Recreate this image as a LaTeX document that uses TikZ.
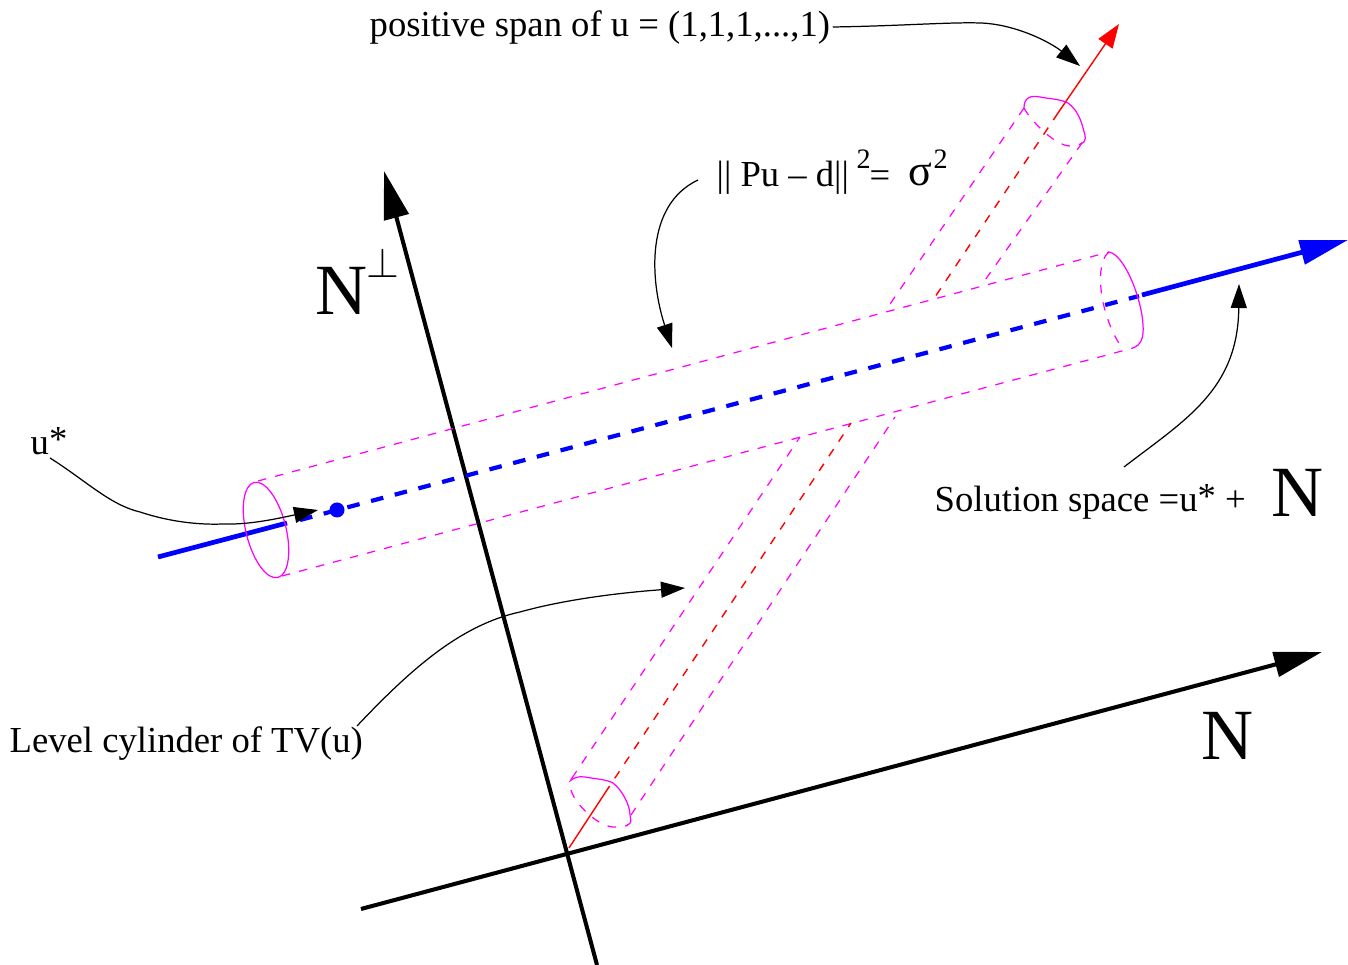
\documentclass[tikz,border=0pt]{standalone}
\usepackage{fontspec}
\setmainfont{Liberation Serif}
\usetikzlibrary{arrows.meta}
\definecolor{cylmagenta}{RGB}{255,0,255}
\tikzset{
  axisline/.style={draw=black,line width=1.15pt,-{Triangle[length=0.48cm,width=0.25cm]}},
  sollinesolid/.style={draw=blue,line width=1.35pt},
  sollinedash/.style={draw=blue,line width=1.2pt,dash pattern=on 3.6pt off 3.37pt},
  cylsolid/.style={draw=cylmagenta,line width=0.35pt},
  cyldash/.style={draw=cylmagenta,line width=0.35pt,dash pattern=on 2.4pt off 2.6pt},
  spansolid/.style={draw=red,line width=0.4pt},
  spandash/.style={draw=red,line width=0.4pt,dash pattern=on 2.4pt off 2.6pt},
  note/.style={draw=black,line width=0.35pt,-{Triangle[length=0.24cm,width=0.16cm]}},
  lbl/.style={font=\fontsize{10.42}{12}\selectfont,inner sep=0pt,anchor=base west},
  biglbl/.style={font=\fontsize{20.5}{24}\selectfont,inner sep=0pt,anchor=base west}
}
\begin{document}
\begin{tikzpicture}[x=0.01cm,y=-0.01cm]
\useasboundingbox (0,0) rectangle (1348,965);
% axes
\coordinate (nstart) at (361,909); \coordinate (ntip) at (1322,652);
\coordinate (pstart) at (597,965); \coordinate (ptip) at (384,171);
\draw[axisline] (nstart) -- (ntip);
\draw[axisline] (pstart) -- (ptip);
% solution line
\coordinate (sa) at (158,557); \coordinate (sb) at (287,523);
\coordinate (sbdash) at (300,520); \coordinate (scdash) at (1139,296);
\coordinate (sc) at (1142,295); \coordinate (sd) at (1348,240);
\draw[sollinesolid] (sa) -- (sb);
\draw[sollinedash] (sbdash) -- (scdash);
\draw[sollinesolid,-{Triangle[length=0.48cm,width=0.24cm]}] (sc) -- (sd);
\node[circle,fill=blue,inner sep=0pt,minimum size=0.15cm] (ustar) at (337,510) {};
% horizontal tube
\coordinate (ha) at (258,481); \coordinate (hb) at (1109,252);
\coordinate (hc) at (282,576); \coordinate (hd) at (1133,348);
\draw[cyldash] (ha) -- (hb);
\draw[cyldash] (hc) -- (hd);
\draw[cylsolid,rotate around={14:(266,530)}] (266,530) ellipse (20 and 49);
\draw[cylsolid] (hb) .. controls (1125,255) and (1142,300) .. (1143,325) .. controls (1144,340) and (1140,345) .. (hd);
\draw[cyldash] (hb) .. controls (1095,262) and (1098,310) .. (1120,345);
% upper tube
\coordinate (ua) at (1024,108); \coordinate (ub) at (888,307);
\coordinate (uc) at (1082,143); \coordinate (ud) at (983,283);
\coordinate (ue) at (1058,113); \coordinate (uf) at (935,297); \coordinate (ug) at (1119,24);
\draw[cyldash] (ua) -- (ub);
\draw[cyldash] (uc) -- (ud);
\draw[spandash] (ue) -- (uf);
\draw[spansolid,-{Triangle[length=0.24cm,width=0.17cm]}] (ue) -- (ug);
\draw[cylsolid] (ua) .. controls (1024,98) and (1030,95) .. (1040,97) .. controls (1050,99) and (1060,99) .. (1068,103) .. controls (1080,112) and (1082,125) .. (1085,135) .. controls (1086,140) and (1084,143) .. (uc);
\draw[cyldash] (ua) .. controls (1030,120) and (1055,146) .. (1070,146) .. controls (1075,146) and (1079,145) .. (uc);
% lower tube
\coordinate (la) at (572,778); \coordinate (lb) at (800,437);
\coordinate (lc) at (631,815); \coordinate (ld) at (895,417);
\coordinate (le) at (605,793); \coordinate (lf) at (851,423); \coordinate (lg) at (569,848);
\draw[cyldash] (la) -- (lb);
\draw[cyldash] (lc) -- (ld);
\draw[spandash] (le) -- (lf);
\draw[spansolid] (lg) -- (le);
\draw[cylsolid] (la) .. controls (568,785) and (572,775) .. (585,777) .. controls (595,779) and (605,779) .. (613,783) .. controls (622,790) and (630,805) .. (630,815) .. controls (631,822) and (632,823) .. (627,825);
\draw[cyldash] (571,790) .. controls (575,805) and (600,828) .. (615,827) .. controls (622,827) and (626,826) .. (628,825);
% labels
\node[lbl] (spanlabel) at (369,37) {positive span of u = (1,1,1,...,1)};
\node[lbl] (cyllabel) at (9,753) {Level cylinder of TV(u)};
\node[lbl] (ulabel) at (30,455) {u\raisebox{1.1pt}{*}};
\node[lbl] (sollabel) at (934,512) {Solution space =u\raisebox{1.1pt}{*} +};
\node[biglbl] (nsol) at (1271,517) {N};
\node[biglbl] (naxis) at (1201,760) {N};
\node[biglbl] (nperp) at (315,315) {N};
\node[lbl,font=\fontsize{13}{15}\selectfont] (perpsign) at (366,278) {$\perp$};
\node[lbl] (normlabel) at (716,187) {|| Pu -- d||};
\node[lbl,font=\fontsize{8}{10}\selectfont] (normtwo) at (856,169) {2};
\node[lbl] (normeq) at (869,188) {=};
\node[lbl,font=\fontsize{12.5}{15}\selectfont] (sigma) at (908,186) {σ};
\node[lbl,font=\fontsize{8}{10}\selectfont] (sigmatwo) at (933,169) {2};
% notes
\coordinate (spanend) at (1080,66); \coordinate (normstart) at (698,180); \coordinate (normend) at (672,348);
\coordinate (ustart) at (50,458); \coordinate (uend) at (318,510);
\coordinate (cylstart) at (357,726); \coordinate (cylend) at (685,588);
\coordinate (solstart) at (1124,467); \coordinate (solend) at (1239,284);
\draw[note] (spanlabel.base east) ++(2,-10) .. controls (900,26) and (950,22) .. (980,23) .. controls (1015,24) and (1050,42) .. (spanend);
\draw[note] (normstart) .. controls (645,205) and (650,280) .. (normend);
\draw[note] (ustart) .. controls (85,480) and (110,505) .. (140,512) .. controls (170,522) and (200,525) .. (223,524) .. controls (250,525) and (280,518) .. (uend);
\draw[note] (cylstart) .. controls (410,670) and (460,625) .. (520,612) .. controls (570,598) and (630,592) .. (cylend);
\draw[note] (solstart) .. controls (1185,420) and (1238,390) .. (solend);
\end{tikzpicture}
\end{document}
